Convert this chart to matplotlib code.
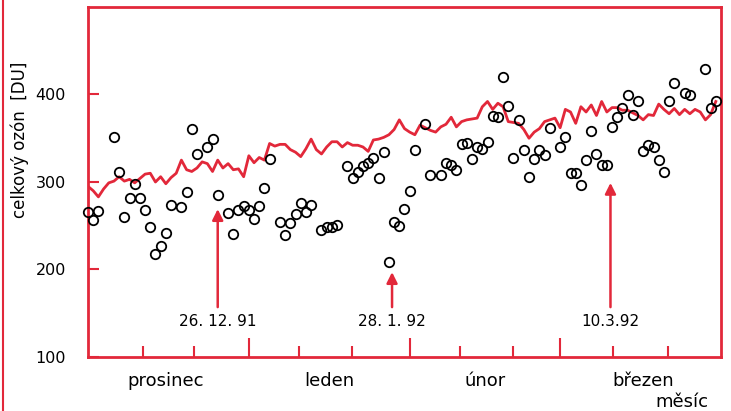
import matplotlib
matplotlib.use("Agg")
import matplotlib.pyplot as plt
from matplotlib.lines import Line2D

RED = "#e2283a"

# daily index: 0 = 1 Dec 1991 ... 121 = 31 Mar 1992
mean_vals = [295, 290, 283, 292, 299, 301, 306, 301, 303, 299,
             304, 309, 310, 300, 306, 298, 305, 310, 325, 314,
             312, 316, 323, 321, 312, 325, 316, 321, 314, 315,
             306, 330, 322, 328, 325, 344, 341, 343, 343, 337,
             334, 329, 338, 349, 337, 332, 340, 346, 346, 340,
             345, 342, 342, 340, 335, 348, 349, 351, 354, 360,
             371, 361, 357, 354, 365, 362, 359, 357, 363, 366,
             374, 363, 369, 371, 372, 373, 386, 392, 383, 390,
             386, 369, 368, 367, 360, 350, 357, 361, 369, 371,
             373, 362, 383, 380, 367, 386, 380, 388, 376, 392,
             380, 385, 385, 382, 382, 379, 376, 371, 377, 376,
             389, 383, 378, 384, 377, 383, 378, 383, 380, 371,
             377, 392]
mean_days = list(range(len(mean_vals)))

obs_days = [0, 1, 2, 5, 6, 7, 8, 9, 10, 11, 12, 13, 14, 15, 16, 18, 19, 20, 21,
            23, 24, 25, 27, 28, 29, 30, 31, 32, 33, 34, 35, 37, 38, 39, 40, 41,
            42, 43, 45, 46, 47, 48, 50, 51, 52, 53, 54, 55, 56, 57, 58, 59, 60,
            61, 62, 63, 65, 66, 68, 69, 70, 71, 72, 73, 74, 75, 76, 77, 78, 79,
            80, 81, 82, 83, 84, 85, 86, 87, 88, 89, 91, 92, 93, 94, 95, 96, 97,
            98, 99, 100, 101, 102, 103, 104, 105, 106, 107, 108, 109, 110, 111,
            112, 113, 115, 116, 119, 120, 121]
obs_vals = [266, 257, 267, 351, 311, 260, 282, 298, 282, 268, 248, 218, 227, 242,
            274, 271, 288, 361, 332, 340, 349, 285, 264, 241, 268, 272, 268, 258,
            273, 293, 326, 254, 239, 253, 263, 276, 266, 274, 245, 249, 248, 251,
            318, 304, 311, 318, 322, 327, 305, 334, 209, 254, 250, 269, 290, 336,
            366, 308, 308, 322, 319, 314, 343, 345, 326, 340, 338, 346, 375, 374,
            420, 387, 327, 371, 336, 306, 326, 336, 331, 362, 340, 351, 310, 310,
            296, 325, 358, 332, 319, 319, 363, 374, 384, 399, 376, 393, 335, 342,
            340, 325, 311, 393, 413, 402, 399, 429, 385, 392]

months = ["prosinec", "leden", "únor", "březen"]
month_mid = [15, 46.5, 76.5, 107]
month_edges = [31, 62, 91]
minor_pos = [10.6, 20.4, 40.7, 50.9, 71.7, 81.9, 101.2, 111.8]

events = ["26. 12. 91", "28. 1. 92", "10.3.92"]
event_day = [25, 58.6, 100.7]
event_tip = [269, 197, 299]

fig = plt.figure(figsize=(7.31, 4.11), dpi=100)
ax = fig.add_axes([0.1204, 0.1314, 0.8659, 0.8516])

ax.plot(mean_days, mean_vals, color=RED, lw=2.0, zorder=2)
ax.plot(obs_days, obs_vals, ls="none", marker="o", ms=6.8, mfc="none",
        mec="black", mew=1.3, zorder=3, clip_on=False)

for lab, d, tip in zip(events, event_day, event_tip):
    ax.annotate("", xy=(d, tip), xytext=(d, 157),
                arrowprops=dict(arrowstyle="-|>", color=RED, lw=1.8,
                                mutation_scale=16, shrinkA=0, shrinkB=0))
    ax.text(d, 141, lab, ha="center", va="center", fontsize=11)

ax.set_xlim(0, 122)
ax.set_ylim(100, 500)
ax.set_yticks([100, 200, 300, 400])
ax.set_xticks(month_edges)
ax.set_xticks(minor_pos, minor=True)
ax.set_xticklabels([])
ax.tick_params(axis="x", which="major", direction="in", length=14, width=1.5, color=RED)
ax.tick_params(axis="x", which="minor", direction="in", length=8, width=1.5, color=RED)
ax.tick_params(axis="y", direction="in", length=8, width=1.5, color=RED,
               labelsize=11.5, pad=16)
for s in ax.spines.values():
    s.set_color(RED)
    s.set_linewidth(2)

for m, x in zip(months, month_mid):
    ax.text(x, -0.07, m, transform=ax.get_xaxis_transform(),
            ha="center", va="center", fontsize=13)
ax.text(114.5, -0.13, "měsíc", transform=ax.get_xaxis_transform(),
        ha="center", va="center", fontsize=13)

fig.text(0.027, 0.66, "celkový ozón  [DU]", rotation=90,
         ha="center", va="center", fontsize=12)
fig.add_artist(Line2D([0.004, 0.004], [0, 1], color=RED, lw=1.5))

fig.savefig("out.png", dpi=100)
